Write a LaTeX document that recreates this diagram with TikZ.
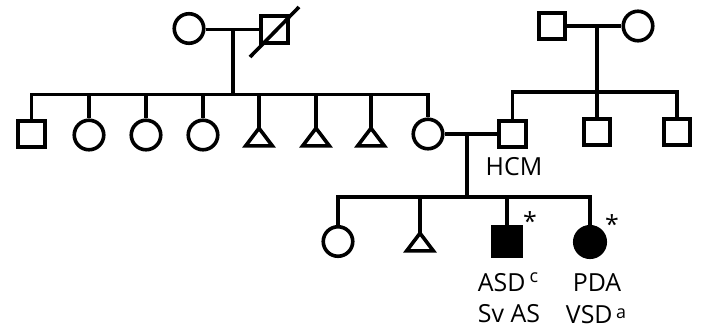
\documentclass[tikz,border=0pt]{standalone}
\usepackage{fontspec}
\setmainfont{Open Sans}
\usetikzlibrary{calc}
\begin{document}
\begin{tikzpicture}[x=1bp,y=-1bp,line width=3.6bp,
  sq/.style={draw,rectangle,minimum size=26.5bp,inner sep=0},
  ci/.style={draw,circle,minimum size=29.5bp,inner sep=0},
  tri/.style={inner sep=0,minimum width=23bp,minimum height=14bp},
  aff/.style={fill=black},
  lbl/.style={font=\fontsize{25}{30}\selectfont,anchor=base,inner sep=0},
  ast/.style={font=\fontsize{25}{30}\selectfont,inner sep=0}]
\useasboundingbox (0,0) rectangle (709,331);
% generation I
\node[ci] (gm) at (189,28.5) {};
\node[sq] (gf) at (274.5,29.5) {};
\coordinate (m1) at (233,29.5);
\node[sq] (pgf) at (552,26) {};
\node[ci] (pgm) at (638,26) {};
\coordinate (m2) at (597,26);
\coordinate (bar1) at (0,94.5);
\coordinate (bar2) at (0,92);
\coordinate (bar3) at (0,197);
% generation II
\node[sq] (a1) at (31.5,134) {};
\node[ci] (a2) at (89,135) {};
\node[ci] (a3) at (146,135) {};
\node[ci] (a4) at (203,135) {};
\node[tri] (t1) at (259,137) {};
\node[tri] (t2) at (316,137) {};
\node[tri] (t3) at (371,137) {};
\node[ci] (mo) at (428,134) {};
\node[sq] (fa) at (512.5,134) {};
\node[sq] (b2) at (597,132) {};
\node[sq] (b3) at (677,132) {};
\coordinate (m3) at (467,134);
% generation III
\node[ci] (d1) at (338,241.5) {};
\node[tri] (t4) at (420,242) {};
\node[sq,aff,minimum size=28.5bp] (d3) at (507,241.5) {};
\node[ci,aff,minimum size=30.5bp] (d4) at (590,242) {};
% triangles
\foreach \t in {t1,t2,t3,t4}
  \draw[line join=miter] (\t.south west) -- (\t.north) -- (\t.south east) -- cycle;
% marriages and lines of descent
\draw (gm.east |- m1) -- (gf);
\draw ($(gf.center)+(-24.5,27.5)$) -- ($(gf.center)+(24.5,-22.5)$);
\draw (m1) -- (m1 |- bar1);
\draw (a1.north) |- (mo.north |- bar1) -- (mo.north);
\foreach \c in {a2,a3,a4,t1,t2,t3}
  \draw (\c.north) -- (\c.north |- bar1);
\draw (pgf) -- (pgm);
\draw (m2) -- (m2 |- bar2);
\draw (fa.north) |- (b3.north |- bar2) -- (b3.north);
\draw (b2.north) -- (b2.north |- bar2);
\draw (mo) -- (fa);
\draw (m3) -- (m3 |- bar3);
\draw (d1.north) |- (d4.north |- bar3) -- (d4.north);
\foreach \c in {t4,d3}
  \draw (\c.north) -- (\c.north |- bar3);
% labels
\node[ast] (s1) at (530,221) {*};
\node[ast] (s2) at (612,224) {*};
\node[lbl] (hcm) at (514,175) {HCM};
\node[lbl] (l1) at (508,291) {ASD\hspace{4bp}\raisebox{8.5bp}{\fontsize{18}{18}\selectfont c}};
\node[lbl] (l2) at (509,322.5) {Sv AS};
\node[lbl] (l3) at (597,291) {PDA};
\node[lbl] (l4) at (596,323.5) {VSD\hspace{3.5bp}\raisebox{5bp}{\fontsize{18}{18}\selectfont a}};
\end{tikzpicture}
\end{document}
